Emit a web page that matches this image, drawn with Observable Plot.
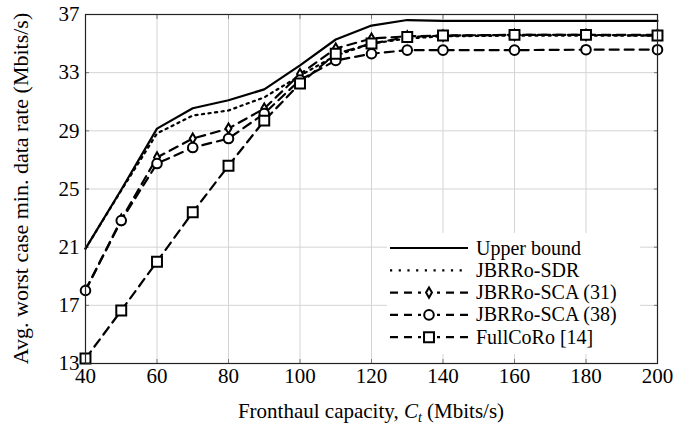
<!DOCTYPE html>
<html>
<head>
<meta charset="utf-8">
<script src="https://cdn.jsdelivr.net/npm/d3@7"></script>
<script src="https://cdn.jsdelivr.net/npm/@observablehq/plot@0.6"></script>
<style>
  html, body { margin: 0; padding: 0; background: white; }
  #chart svg { display: block; }
  #chart svg text { font-family: "Liberation Serif", "Times New Roman", serif !important; }
</style>
</head>
<body>
<div id="chart"></div>
<script>
const capacity = [40, 50, 60, 70, 80, 90, 100, 110, 120, 130, 140, 160, 180, 200];
const upperBound = [20.9, 24.95, 29.15, 30.55, 31.1, 31.85, 33.5, 35.28, 36.24, 36.62, 36.56, 36.56, 36.56, 36.56];
const jbrroSDR   = [20.9, 24.9, 28.82, 30.05, 30.4, 31.3, 32.8, 34.18, 35.0, 35.35, 35.5, 35.55, 35.55, 35.55];
const jbrroSCA31 = [18.05, 22.9, 27.17, 28.47, 29.16, 30.53, 32.9, 34.66, 35.35, 35.5, 35.55, 35.6, 35.6, 35.6];
const jbrroSCA38 = [18.02, 22.83, 26.75, 27.85, 28.47, 30.19, 32.5, 33.84, 34.3, 34.55, 34.55, 34.55, 34.58, 34.58];
const fullCoRo   = [13.34, 16.64, 20.0, 23.4, 26.6, 29.7, 32.25, 34.3, 35.0, 35.45, 35.55, 35.6, 35.6, 35.55];

const seriesNames = ["Upper bound", "JBRRo-SDR", "JBRRo-SCA (31)", "JBRRo-SCA (38)", "FullCoRo [14]"];
const seriesValues = [upperBound, jbrroSDR, jbrroSCA31, jbrroSCA38, fullCoRo];
const seriesDash = [null, "2.2,4.4", "9,6", "9,6", "9,6"];
const seriesSymbol = [null, null, "diamond", "circle", "square"];
const seriesR = [0, 0, 3.1, 4.8, 5.6];

const xTicks = [40, 60, 80, 100, 120, 140, 160, 180, 200];
const yTicks = [13, 17, 21, 25, 29, 33, 37];

const xLabelMain = "Fronthaul capacity, ";
const xLabelVar = "C";
const xLabelSub = "t";
const xLabelUnit = " (Mbits/s)";
const yLabel = "Avg. worst case min. data rate (Mbits/s)";

(function () {
const rows = [];
seriesValues.forEach((vals, s) => vals.forEach((v, i) => rows.push({series: seriesNames[s], s, x: capacity[i], y: v})));

const lineMarks = seriesNames.map((name, s) => Plot.line(rows.filter(d => d.s === s), {
  x: "x", y: "y", stroke: "black", strokeWidth: 2.2,
  strokeDasharray: seriesDash[s] || undefined, strokeLinejoin: "round"
}));
const dotMarks = seriesNames.map((name, s) => seriesSymbol[s] ? Plot.dot(rows.filter(d => d.s === s), {
  x: "x", y: "y", symbol: seriesSymbol[s], r: seriesR[s], stroke: "black", strokeWidth: 2, fill: "white"
}) : null).filter(Boolean);

const FONT = "'Liberation Serif', 'Times New Roman', serif";

const plot = Plot.plot({
  width: 696,
  height: 427,
  marginLeft: 85,
  marginRight: 39,
  marginTop: 14,
  marginBottom: 64,
  style: {fontFamily: FONT, fontSize: "21px", background: "white", color: "black"},
  x: {domain: [40, 200]},
  y: {domain: [13, 37]},
  marks: [
    Plot.gridX(xTicks, {stroke: "#d4d4d4", strokeOpacity: 1, strokeWidth: 1}),
    Plot.gridY(yTicks, {stroke: "#d4d4d4", strokeOpacity: 1, strokeWidth: 1}),
    Plot.axisX(xTicks, {anchor: "bottom", tickSize: -4, tickFormat: () => "", stroke: "#777", label: null}),
    Plot.axisX(xTicks, {anchor: "top", tickSize: -4, tickFormat: () => "", stroke: "#777", label: null}),
    Plot.axisY(yTicks, {anchor: "left", tickSize: -4, tickFormat: () => "", stroke: "#777", label: null}),
    Plot.axisY(yTicks, {anchor: "right", tickSize: -4, tickFormat: () => "", stroke: "#777", label: null}),
    Plot.axisX(xTicks, {anchor: "bottom", tickSize: 0, tickPadding: 5, label: null, fontSize: 21}),
    Plot.axisY(yTicks, {anchor: "left", tickSize: 0, tickPadding: 6, label: null, fontSize: 21}),
    ...lineMarks,
    ...dotMarks,
    Plot.frame({stroke: "#222", strokeWidth: 1.2})
  ]
});

document.getElementById("chart").appendChild(plot);

const svg = d3.select(plot);
const xs = plot.scale("x"), ys = plot.scale("y");
const pL = xs.apply(40), pR = xs.apply(200), pT = ys.apply(37), pB = ys.apply(13);

const xt = svg.append("text")
  .attr("x", (pL + pR) / 2).attr("y", 418)
  .attr("text-anchor", "middle").attr("font-size", 21).attr("fill", "black");
xt.append("tspan").text(xLabelMain);
xt.append("tspan").attr("font-style", "italic").text(xLabelVar);
xt.append("tspan").attr("font-style", "italic").attr("font-size", 14).attr("dy", 4).text(xLabelSub);
xt.append("tspan").attr("dy", -4).text(xLabelUnit);

svg.append("text")
  .attr("transform", `translate(28,${(pT + pB) / 2}) rotate(-90)`)
  .attr("text-anchor", "middle").attr("font-size", 22).attr("fill", "black")
  .text(yLabel);

const lg = svg.append("g").attr("text-anchor", "start");
lg.append("rect").attr("x", pR - 270).attr("y", pT + 219).attr("width", 253).attr("height", 121).attr("fill", "white");
seriesNames.forEach((name, s) => {
  const cy = pT + 234 + s * 22.3;
  const x0 = pR - 267, x1 = pR - 189, xm = (x0 + x1) / 2;
  lg.append("line").attr("x1", x0).attr("x2", x1).attr("y1", cy).attr("y2", cy)
    .attr("stroke", "black").attr("stroke-width", 2.2)
    .attr("stroke-dasharray", seriesDash[s] ? (s === 1 ? "2.2,6.5" : "8,6") : null);
  if (seriesSymbol[s]) {
    const sym = {diamond: d3.symbolDiamond, circle: d3.symbolCircle, square: d3.symbolSquare}[seriesSymbol[s]];
    const r = seriesR[s];
    lg.append("rect").attr("x", xm - 8).attr("y", cy - 3).attr("width", 16).attr("height", 6).attr("fill", "white");
    lg.append("path").attr("d", d3.symbol(sym, Math.PI * r * r)())
      .attr("transform", `translate(${xm},${cy})`)
      .attr("fill", "white").attr("stroke", "black").attr("stroke-width", 2);
  }
  lg.append("text").attr("x", pR - 181).attr("y", cy + 6.5).attr("text-anchor", "start")
    .attr("font-size", 20).attr("fill", "black").text(name);
});
})();
</script>
</body>
</html>
